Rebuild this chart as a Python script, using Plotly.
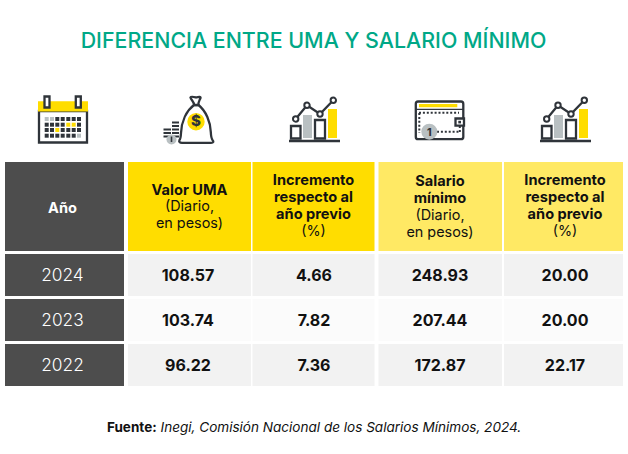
import plotly.graph_objects as go

# ---- data ----
title = "DIFERENCIA ENTRE UMA Y SALARIO MÍNIMO"
source_bold = "Fuente:"
source_text = "Inegi, Comisión Nacional de los Salarios Mínimos, 2024."
years = ["2024", "2023", "2022"]
valor_uma = ["108.57", "103.74", "96.22"]
incremento_uma = ["4.66", "7.82", "7.36"]
salario_minimo = ["248.93", "207.44", "172.87"]
incremento_salario = ["20.00", "20.00", "22.17"]
header_anio = [("Año", True)]
header_uma = [("Valor UMA", True), ("(Diario,", False), ("en pesos)", False)]
header_inc = [("Incremento", True), ("respecto al", True), ("año previo", True), ("(%)", False)]
header_sal = [("Salario", True), ("mínimo", True), ("(Diario,", False), ("en pesos)", False)]

# ---- layout constants (pixels) ----
W, H = 628, 454
FONT = "Inter"
DARK = "#2f343a"
GREY = "#b9c0c2"
YEL = "#ffdd00"
LYEL = "#ffe964"
CELL = "#4d4d4d"
columns = [(5, 124), (128, 251), (252.5, 374.5), (378.5, 502), (504, 623)]
header_y = (162, 251)
row_y = [(254, 296), (299, 341), (344, 386)]
row_fill = ["#f2f2f2", "#fbfbfb", "#f2f2f2"]
head_fill = [CELL, YEL, YEL, LYEL, LYEL]
text_x = [62.5, 188, 314, 440, 565]
row_centers = [277, 322, 367]

shapes = []
def rect(x0, y0, x1, y1, fill=None, line=None, lw=0):
    shapes.append(dict(type="rect", x0=x0, y0=y0, x1=x1, y1=y1, xref="x", yref="y", layer="below",
                       fillcolor=fill or "rgba(0,0,0,0)",
                       line=dict(color=line or "rgba(0,0,0,0)", width=lw)))
def circle(cx, cy, r, fill=None, line=None, lw=0):
    shapes.append(dict(type="circle", x0=cx-r, y0=cy-r, x1=cx+r, y1=cy+r, xref="x", yref="y", layer="below",
                       fillcolor=fill or "rgba(0,0,0,0)",
                       line=dict(color=line or "rgba(0,0,0,0)", width=lw)))
def path(d, fill=None, line=DARK, lw=2.3, dash=None):
    ln = dict(color=line or "rgba(0,0,0,0)", width=lw)
    if dash:
        ln["dash"] = dash
    shapes.append(dict(type="path", path=d, xref="x", yref="y", layer="below",
                       fillcolor=fill or "rgba(0,0,0,0)", line=ln))

# table cells
for i, (x0, x1) in enumerate(columns):
    rect(x0, header_y[0], x1, header_y[1], fill=head_fill[i])
    for j, (y0, y1) in enumerate(row_y):
        rect(x0, y0, x1, y1, fill=CELL if i == 0 else row_fill[j])

# calendar icon
rect(39, 111, 87, 142.5, fill="white", line=DARK, lw=2.3)
rect(38, 101.3, 88, 111.5, fill=YEL)
for rx in (44.5, 75.8):
    rect(rx, 96.5, rx+5, 107.5, fill="white", line=DARK, lw=2.3)
cal_x = [46.7, 52, 57.3, 62.7, 68.3, 73.7, 79]
cal_y = [119, 124.7, 130, 135.7]
cal_pattern = ["ggddddd", "ddddyyd", "ddydddd", "ddddddg"]
cal_col = {"g": GREY, "d": DARK, "y": YEL}
for cy, row in zip(cal_y, cal_pattern):
    for cx, c in zip(cal_x, row):
        rect(cx-2, cy-2, cx+2, cy+2, fill=cal_col[c])

# money bag icon
path("M 194 105 C 186 111 181.5 122 181 133 C 180.8 137 180.5 139 179.5 140 "
     "C 178.5 142 180 142.8 182 142.8 L 211 142.8 C 213.5 142.8 214 141.5 212.5 140 "
     "C 211.3 138.5 211 136 210.8 132 C 210.5 122 206 111 198.5 105 Z", fill="white")
path("M 194 105 L 198.5 105 C 198 102.5 199 101.5 200.5 98 C 201 96.5 199 96.5 196 97.5 "
     "C 194 97 191 96.2 190.5 97.5 C 191 100 194.5 102 194 105 Z", fill="white")
circle(196, 121.7, 8.7, fill=YEL)
for y0, y1, xs in [(122.5, 139, (172, 179)), (129.5, 139, (163.5, 171))]:
    y = y0
    while y <= y1 - 2:
        path(f"M {xs[0]} {y} L {xs[1]} {y}", lw=2)
        y += 3.5
circle(171.5, 139.5, 5, fill=GREY)
rect(170.7, 136.5, 172.3, 142, fill=DARK)

# chart icons
for dx in (0, 251):
    rect(291+dx, 126, 300.5+dx, 138.5, fill="white", line=DARK, lw=2.3)
    rect(303+dx, 115, 312+dx, 138, fill=GREY)
    rect(315+dx, 120, 325+dx, 138.5, fill="white", line=DARK, lw=2.3)
    rect(328+dx, 109, 337+dx, 138, fill=YEL)
    path(f"M {289+dx} 141 L {340+dx} 141", lw=2.3)
    path(f"M {295.7+dx} 119 L {307+dx} 105.3 L {320+dx} 114 L {333.3+dx} 100.3", lw=2.3)
    for px, py in [(295.7, 119), (307, 105.3), (320, 114), (333.3, 100.3)]:
        circle(px+dx, py, 2.7, fill="white", line=DARK, lw=2)

# wallet icon
path("M 418 101.5 L 461 101.5 C 462.5 101.5 463.3 102.3 463.3 104 L 463.3 137 "
     "C 463.3 138.5 462.5 139.2 461 139.2 L 418 139.2 C 416.5 139.2 415.8 138.5 415.8 137 "
     "L 415.8 104 C 415.8 102.3 416.5 101.5 418 101.5 Z", fill="white")
rect(419, 104, 457.3, 107.3, fill=YEL)
path("M 416 109.3 L 463 109.3", lw=1.2)
dots = "2px,1.9px"
path("M 419 112.7 L 459 112.7", lw=2, dash=dots)
path("M 419.3 113 L 419.3 133", lw=2, dash=dots)
path("M 437 131.7 L 459 131.7", lw=2, dash=dots)
path("M 459.8 126 L 459.8 133", lw=2, dash=dots)
rect(455.5, 118.5, 464, 125.7, fill="white", line=DARK, lw=2.3)
rect(458.3, 120.8, 461, 123.4, fill=DARK)
circle(429.3, 131.7, 8, fill=GREY)

# ---- text ----
fig = go.Figure()
def add_text(texts, xs, ys, size, color, weight=400, style="normal", pos="middle center"):
    fig.add_trace(go.Scatter(x=xs, y=ys, mode="text", text=texts, textposition=pos,
                             textfont=dict(family=FONT, size=size, color=color, weight=weight, style=style),
                             hoverinfo="skip", showlegend=False))

add_text(years, [text_x[0]]*3, row_centers, 17.3, "#ffffff", 300)
for i, vals in enumerate([valor_uma, incremento_uma, salario_minimo, incremento_salario]):
    add_text(vals, [text_x[i+1]]*3, row_centers, 16, "#111111", 700)

def add_header(lines, x, ys):
    for (t, bold), y in zip(lines, ys):
        if bold:
            add_text([t], [x], [y], 14.6, "#ffffff" if t == "Año" else "#111111", 700)
        else:
            add_text([t], [x], [y], 14.4, "#111111", 400)

add_header(header_anio, text_x[0], [209])
add_header(header_uma, 189.5, [191, 207.5, 224])
add_header(header_inc, 313.5, [181.5, 198.3, 215.1, 232])
add_header(header_sal, 440, [182, 199, 216, 233])
add_header(header_inc, 565, [181.5, 198.3, 215.1, 232])

add_text([title], [313.5], [42.3], 21.4, "#00a887", 500)
add_text([source_bold], [107], [428.5], 13.5, "#111111", 700, pos="middle right")
add_text([source_text], [160.5], [428.5], 13.55, "#111111", 400, "italic", pos="middle right")
add_text(["$"], [196], [122.7], 15, DARK, 800)
add_text(["1"], [429.3], [133], 10.5, DARK, 800)

fig.update_layout(
    width=W, height=H, margin=dict(l=0, r=0, t=0, b=0),
    paper_bgcolor="white", plot_bgcolor="white", shapes=shapes,
    xaxis=dict(range=[0, W], visible=False, fixedrange=True),
    yaxis=dict(range=[H, 0], visible=False, fixedrange=True),
    showlegend=False,
)
fig.write_html("out.html", config=dict(displayModeBar=False),
               post_script="document.body.style.margin='0';")
